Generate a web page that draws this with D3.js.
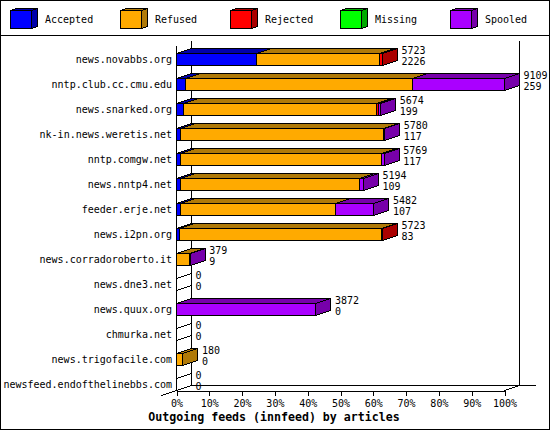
<!DOCTYPE html>
<html><head><meta charset="utf-8">
<script src="https://cdn.jsdelivr.net/npm/d3@7/dist/d3.min.js"></script>
<style>
html,body{margin:0;padding:0;background:#fff}
svg{display:block}
text{font-family:"DejaVu Sans Mono",monospace;font-size:10px;fill:#000}
</style></head><body><div id="c"></div>
<script>
const hosts=["news.novabbs.org","nntp.club.cc.cmu.edu","news.snarked.org","nk-in.news.weretis.net","nntp.comgw.net","news.nntp4.net","feeder.erje.net","news.i2pn.org","news.corradoroberto.it","news.dne3.net","news.quux.org","chmurka.net","news.trigofacile.com","newsfeed.endofthelinebbs.com"];
const accepted=[2226,259,199,117,117,109,107,83,9,0,0,0,0,0];
const refused=[3421,6298,5355,5640,5578,4974,4309,5622,360,0,0,0,180,0];
const rejected=[76,0,60,0,0,0,0,18,0,0,0,0,0,0];
const missing=[0,0,0,0,0,0,0,0,0,0,0,0,0,0];
const spooled=[0,2552,60,23,74,111,1066,0,10,0,3872,0,0,0];
const totals=[5723,9109,5674,5780,5769,5194,5482,5723,379,0,3872,0,180,0];
const seriesNames=["Accepted","Refused","Rejected","Missing","Spooled"];
const seriesValues=[accepted,refused,rejected,missing,spooled];
const fronts=["#0000ff","#ffaa00","#ff0000","#00ff00","#aa00ff"];
const darks=["#0000aa","#b07a08","#aa0000","#00aa00","#7700aa"];
const percentTicks=[0,10,20,30,40,50,60,70,80,90,100];
const title="Outgoing feeds (innfeed) by articles";

const W=550,H=430,dx=15,dy=5;
const svg=d3.select("#c").append("svg").attr("width",W).attr("height",H).attr("shape-rendering","crispEdges");
svg.append("rect").attr("x",.5).attr("y",.5).attr("width",W-1).attr("height",H-1).attr("fill","#fff").attr("stroke","#000");
svg.append("line").attr("x1",0).attr("x2",W).attr("y1",35.5).attr("y2",35.5).attr("stroke","#000");

const maxTotal=d3.max(totals);
const xPct=d3.scaleLinear().domain([0,100]).range([176.5,504.5]);
const x=d3.scaleLinear().domain([0,maxTotal]).range([176.5,504.5]);
const y=d3.scaleBand().domain(hosts).range([46.5,396.5]).paddingInner(.52).paddingOuter(.26);
const axisY=390.5, topY=45.5;

// legend
const leg=d3.scaleLinear().domain([0,4]).range([10,450]);
seriesNames.forEach((n,i)=>{
  const g=svg.append("g").attr("transform",`translate(${leg(i)+.5},10.5)`);
  const w=21,h=18,a=6,b=2;
  g.append("path").attr("d",`M${w},0L${w+a},${-b}V${h-b}L${w},${h}Z`).attr("fill",darks[i]).attr("stroke","#000");
  g.append("path").attr("d",`M0,0L${a},${-b}H${w+a}L${w},0Z`).attr("fill",darks[i]).attr("stroke","#000");
  g.append("rect").attr("width",w).attr("height",h).attr("fill",fronts[i]).attr("stroke","#000");
  g.append("text").attr("x",34.5).attr("y",9).attr("dy",".35em").text(n);
});

// walls
const wall=svg.append("g").attr("fill","none").attr("stroke","#000");
wall.append("line").attr("x1",xPct(0)+dx).attr("x2",xPct(0)+dx).attr("y1",topY-dy).attr("y2",axisY-dy);
wall.append("line").attr("x1",xPct(100)+dx).attr("x2",xPct(100)+dx).attr("y1",topY-dy).attr("y2",axisY-dy);
wall.append("line").attr("x1",xPct(0)+dx).attr("x2",535.5).attr("y1",axisY-dy).attr("y2",axisY-dy);
wall.append("line").attr("x1",xPct(0)).attr("x2",xPct(0)).attr("y1",topY).attr("y2",axisY);
wall.append("path").attr("d",`M${xPct(0)-dx},${axisY+dy}L${xPct(0)+dx},${axisY-dy}`);
wall.append("path").attr("d",`M${xPct(100)},${axisY}L${xPct(100)+dx},${axisY-dy}`);

// x axis
const ax=svg.append("g").attr("transform",`translate(0,${axisY})`)
  .call(d3.axisBottom(xPct).tickValues(percentTicks).tickFormat(d=>d+"%").tickSize(5).tickPadding(4).tickSizeOuter(0));
ax.select(".domain").attr("stroke","#000");
ax.selectAll("text").style("font-family",'"DejaVu Sans Mono",monospace').style("font-size","10px");

// bars
hosts.forEach((h,r)=>{
  const t=Math.round(y(h))+.5, bw=Math.round(y.bandwidth());
  const g=svg.append("g").attr("stroke","#000");
  let c=0,last=-1;
  seriesValues.forEach((s,i)=>{
    const v=s[r]; if(v<=0) return;
    const a=Math.round(x(c)-.5)+.5, b=Math.round(x(c+v)-.5)+.5;
    g.append("path").attr("d",`M${a},${t}L${a+dx},${t-dy}H${b+dx}L${b},${t}Z`).attr("fill",darks[i]);
    g.append("rect").attr("x",a).attr("y",t).attr("width",b-a).attr("height",bw).attr("fill",fronts[i]);
    c+=v; last=i;
  });
  const e=Math.round(x(c)-.5)+.5;
  g.append("path").attr("d",`M${e},${t}L${e+dx},${t-dy}V${t+bw-dy}L${e},${t+bw}Z`)
    .attr("fill",last<0?"none":darks[last]);
  const mid=y(h)+y.bandwidth()/2;
  svg.append("text").attr("x",172).attr("y",mid).attr("dy",".35em").attr("text-anchor","end").text(h);
  svg.append("text").attr("x",x(totals[r])+dx+4).attr("y",mid-8.5).attr("dy",".35em").text(totals[r]);
  svg.append("text").attr("x",x(totals[r])+dx+4).attr("y",mid+2).attr("dy",".35em").text(accepted[r]);
});

svg.append("text").attr("x",274).attr("y",417).attr("dy",".35em").attr("text-anchor","middle")
  .style("font-size","11.6px").style("font-weight","bold").text(title);
</script></body></html>
